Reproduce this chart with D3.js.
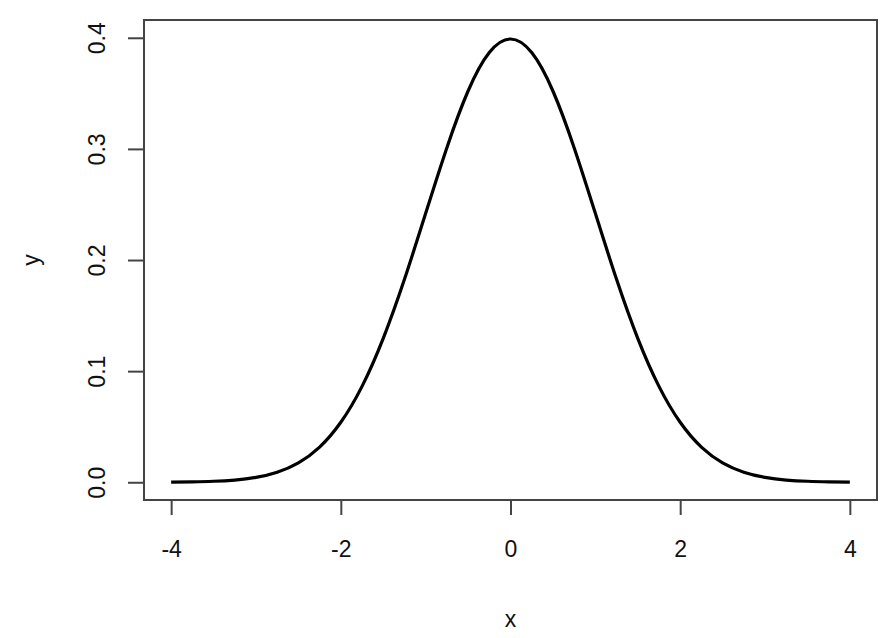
<!DOCTYPE html>
<html>
<head>
<meta charset="UTF-8">
<title>normal_density</title>

<style type="text/css">
	body { margin: 0; background: #fff; }

	.axis path, .axis line {
		stroke: #444;
		stroke-width: 2px;
	}

	.axis text, .label {
		font-family: "Liberation Sans", Arial, sans-serif;
		font-size: 23px;
		fill: #111;
	}
</style>

<script type="text/javascript" src="https://cdn.jsdelivr.net/npm/d3@7/dist/d3.min.js" charset="utf-8"></script>

<script type="text/javascript">

	// x positions
	var xs = [-4, -3.75, -3.5, -3.25, -3, -2.75, -2.5, -2.25, -2, -1.75, -1.5, -1.25, -1, -0.75, -0.5, -0.25,
	          0, 0.25, 0.5, 0.75, 1, 1.25, 1.5, 1.75, 2, 2.25, 2.5, 2.75, 3, 3.25, 3.5, 3.75, 4];
	// density values
	var ys = [0.0001, 0.0004, 0.0009, 0.002, 0.0044, 0.0091, 0.0175, 0.0317, 0.054, 0.0863, 0.1295, 0.1826, 0.242, 0.3011, 0.3521, 0.3867,
	          0.3989, 0.3867, 0.3521, 0.3011, 0.242, 0.1826, 0.1295, 0.0863, 0.054, 0.0317, 0.0175, 0.0091, 0.0044, 0.002, 0.0009, 0.0004, 0.0001];

	var xTicks = [-4, -2, 0, 2, 4];
	var yTicks = [0.0, 0.1, 0.2, 0.3, 0.4];
	var xTickLabels = ["-4", "-2", "0", "2", "4"];
	var yTickLabels = ["0.0", "0.1", "0.2", "0.3", "0.4"];

	function draw(svg_w, svg_h, id_svg_main){

		var box = { left: 144, right: 877, top: 20, bottom: 500 };

		// R style: 4% padding around the data range
		var xPad = (d3.max(xs) - d3.min(xs)) * 0.04;
		var yPad = (d3.max(ys) - 0) * 0.04;

		var scaleX = d3.scaleLinear()
						.domain([d3.min(xs) - xPad, d3.max(xs) + xPad])
						.range([box.left, box.right]);

		var scaleY = d3.scaleLinear()
						.domain([0 - yPad, 0.4 + yPad * 0.4 / d3.max(ys)])
						.range([box.bottom, box.top]);

		var svg = d3.select(id_svg_main)
					.append("svg")
						.attr("width", svg_w)
						.attr("height", svg_h);

		// the curve
		var data = xs.map(function (x, i) { return { x: x, y: ys[i] }; });

		var line = d3.line()
						.x(function (d) { return scaleX(d.x); })
						.y(function (d) { return scaleY(d.y); })
						.curve(d3.curveNatural);

		svg.append("path")
				.datum(data)
				.attr("d", line)
				.attr("fill", "none")
				.attr("stroke", "#000")
				.attr("stroke-width", 3.2);

		// x axis
		var axisX = d3.axisBottom(scaleX)
						.tickValues(xTicks)
						.tickFormat(function (d, i) { return xTickLabels[i]; })
						.tickSize(15)
						.tickPadding(26);

		var gx = svg.append("g")
				.attr("class", "x axis")
				.attr("transform", "translate(0," + box.bottom + ")")
				.call(axisX);
		gx.select(".domain").remove();
		gx.append("line")
				.attr("x1", scaleX(xTicks[0]))
				.attr("x2", scaleX(xTicks[xTicks.length - 1]));

		// y axis
		var axisY = d3.axisLeft(scaleY)
						.tickValues(yTicks)
						.tickFormat(function (d, i) { return yTickLabels[i]; })
						.tickSize(16);

		var gy = svg.append("g")
				.attr("class", "y axis")
				.attr("transform", "translate(" + box.left + ",0)")
				.call(axisY);
		gy.select(".domain").remove();
		gy.selectAll("text")
				.attr("x", 0)
				.attr("y", 0)
				.attr("dy", 0)
				.attr("text-anchor", "middle")
				.attr("transform", "translate(-39,0) rotate(-90)");

		// box
		svg.append("rect")
				.attr("x", box.left)
				.attr("y", box.top)
				.attr("width", box.right - box.left)
				.attr("height", box.bottom - box.top)
				.attr("fill", "none")
				.attr("stroke", "#444")
				.attr("stroke-width", 2);

		// axis titles
		svg.append("text")
				.attr("class", "label")
				.attr("x", (box.left + box.right) / 2)
				.attr("y", 627)
				.attr("text-anchor", "middle")
				.text("x");

		svg.append("text")
				.attr("class", "label")
				.attr("text-anchor", "middle")
				.attr("transform", "translate(39," + (box.top + box.bottom) / 2 + ") rotate(-90)")
				.text("y");
	}

</script>

</head>
<body>

<div id="div_main"></div>

<script type="text/javascript">
	draw(892, 638, "#div_main");
</script>

</body>
</html>
